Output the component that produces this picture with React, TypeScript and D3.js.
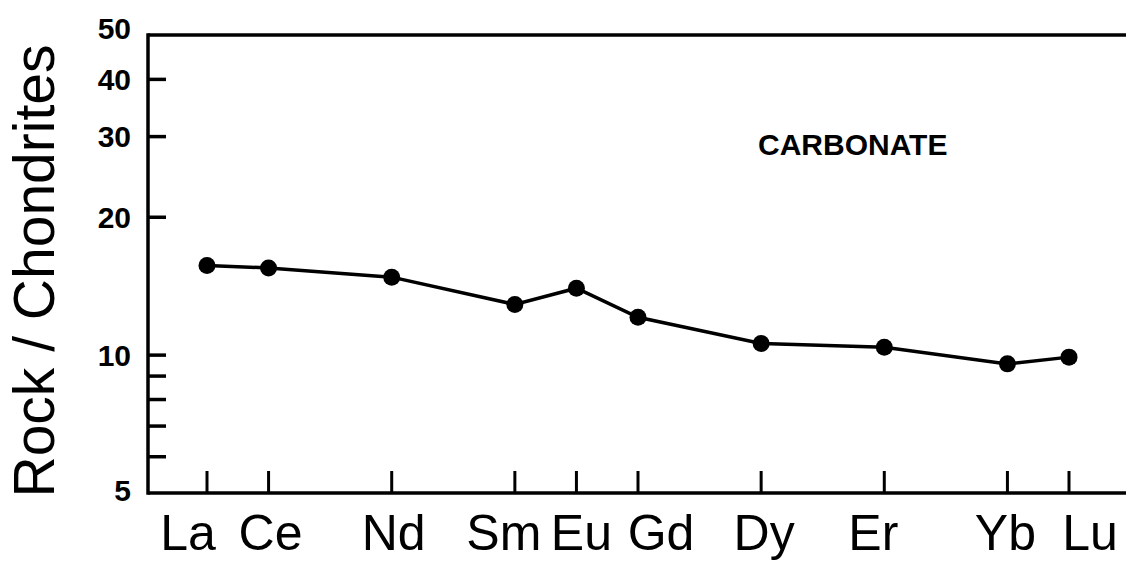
import React from "react";
import * as d3 from "d3";

const elements = ["La", "Ce", "Nd", "Sm", "Eu", "Gd", "Dy", "Er", "Yb", "Lu"];
const atomicNumbers = [57, 58, 60, 62, 63, 64, 66, 68, 70, 71];
const carbonateValues = [15.7, 15.5, 14.8, 12.9, 14.0, 12.1, 10.6, 10.4, 9.57, 9.9];
const yMajorTicks = [10, 20, 30, 40];
const yMinorTicks = [6, 7, 8, 9];
const yLabels = [5, 10, 20, 30, 40, 50];

// layout: horizontal nudges of the element labels (px) to keep them apart
const labelNudges = [-19, 2, 2, -11, 5, 23, 3, -11, -2, 21];

const W = 1126;
const H = 562;
const left = 148;
const top = 35;
const bottom = 493;

export default function App() {
  const x = d3.scaleLinear().domain([57, 71]).range([207, 1069]);
  const y = d3.scaleLog().domain([5, 50]).range([bottom, top]);
  const pts = atomicNumbers.map((z, i) => [x(z), y(carbonateValues[i])] as [number, number]);
  const line = d3.line()(pts) || "";
  const font = "'Liberation Sans', Arial, Helvetica, sans-serif";
  return (
    <svg width={W} height={H} style={{ position: "absolute", left: 0, top: 0, background: "#fff" }}>
      <rect x={0} y={0} width={W} height={H} fill="#fff" />
      {/* frame */}
      <line x1={left} y1={top} x2={W} y2={top} stroke="#000" strokeWidth={3.5} />
      <line x1={left} y1={bottom} x2={W} y2={bottom} stroke="#000" strokeWidth={3.5} />
      <line x1={left} y1={top - 1.75} x2={left} y2={bottom + 1.75} stroke="#000" strokeWidth={3.5} />
      {/* y ticks */}
      {[...yMajorTicks, ...yMinorTicks].map((v) => (
        <line key={"yt" + v} x1={left} x2={left + 18} y1={y(v)} y2={y(v)} stroke="#000" strokeWidth={3.5} />
      ))}
      {yLabels.map((v) => (
        <text
          key={"yl" + v}
          x={131}
          y={v === 50 ? y(v) - 7 : v === 5 ? y(v) - 3 : y(v)}
          dy="0.36em"
          textAnchor="end"
          fontFamily={font}
          fontWeight="bold"
          fontSize={30}
        >
          {v}
        </text>
      ))}
      {/* x ticks */}
      {atomicNumbers.map((z) => (
        <line key={"xt" + z} x1={x(z)} x2={x(z)} y1={bottom} y2={bottom - 22} stroke="#000" strokeWidth={3} />
      ))}
      {elements.map((e, i) => (
        <text
          key={"xl" + e}
          x={x(atomicNumbers[i]) + labelNudges[i]}
          y={550}
          textAnchor="middle"
          fontFamily={font}
          fontSize={50}
        >
          {e}
        </text>
      ))}
      {/* y title */}
      <text
        transform={`translate(54, 271) rotate(-90)`}
        textAnchor="middle"
        fontFamily={font}
        fontSize={57}
      >
        Rock / Chondrites
      </text>
      {/* series */}
      <path d={line} fill="none" stroke="#000" strokeWidth={3.5} />
      {pts.map((p, i) => (
        <circle key={"pt" + i} cx={p[0]} cy={p[1]} r={8.5} fill="#000" />
      ))}
      <text x={758} y={155} fontFamily={font} fontWeight="bold" fontSize={30}>
        CARBONATE
      </text>
    </svg>
  );
}
